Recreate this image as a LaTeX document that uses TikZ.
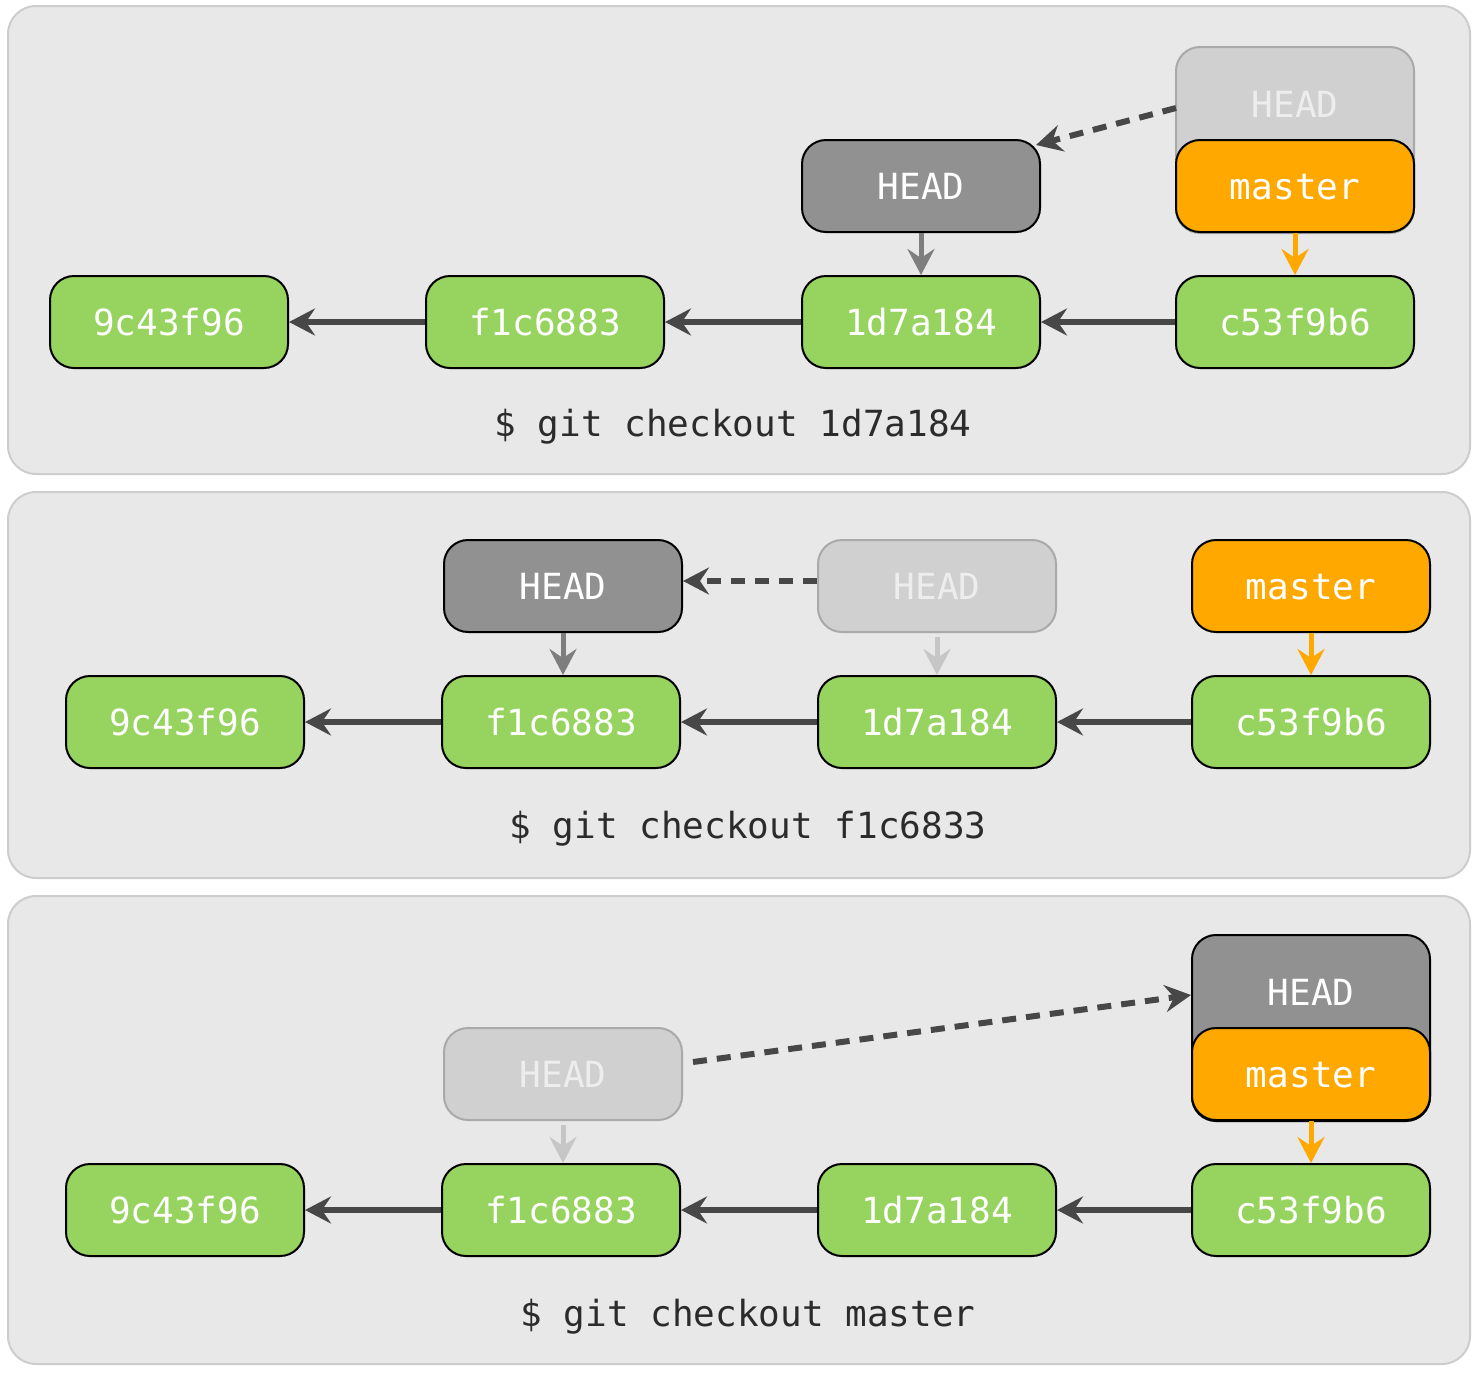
\documentclass[tikz,border=0pt]{standalone}
\usepackage{fontspec}
\newfontfamily\gitfont{DejaVu Sans Mono}
\usetikzlibrary{arrows.meta}
\definecolor{panelfill}{HTML}{E8E8E8}
\definecolor{panelline}{HTML}{CDCDCD}
\definecolor{commitgreen}{HTML}{96D35F}
\definecolor{headgray}{HTML}{919191}
\definecolor{fadefill}{HTML}{D0D0D0}
\definecolor{fadeline}{HTML}{A9A9A9}
\definecolor{fadetext}{HTML}{EDEDED}
\definecolor{branchorange}{HTML}{FFA800}
\definecolor{arrowdark}{HTML}{474747}
\definecolor{headarrow}{HTML}{7E7E7E}
\definecolor{fadearrow}{HTML}{C6C6C6}
\definecolor{cmdtext}{HTML}{2B2B2B}
\begin{document}
\begin{tikzpicture}[x=1pt,y=-1pt,
  box/.style={rounded corners=24pt, line width=2pt, minimum width=238pt, minimum height=92pt, inner sep=0pt,
    font=\gitfont\fontsize{36}{40}\selectfont, text=white, text height=27pt, text depth=0pt},
  commit/.style={box, draw=black, fill=commitgreen},
  headref/.style={box, draw=black, fill=headgray},
  oldhead/.style={box, draw=fadeline, fill=fadefill, text=fadetext},
  branch/.style={box, draw=black, fill=branchorange},
  panel/.style={draw=panelline, fill=panelfill, line width=2pt, rounded corners=28pt},
  cmd/.style={font=\gitfont\fontsize{36}{40}\selectfont, text=cmdtext, inner sep=0pt, text height=27pt, text depth=0pt},
  tip/.style={-{Stealth[length=26pt,width=27pt,inset=9pt]}},
  parent/.style={draw=arrowdark, line width=6pt, tip},
  headptr/.style={draw=headarrow, line width=5pt, tip},
  oldptr/.style={draw=fadearrow, line width=5pt, tip},
  branchptr/.style={draw=branchorange, line width=5pt, tip},
  moved/.style={draw=arrowdark, line width=6pt, dash pattern=on 14pt off 10pt, tip}
]
\useasboundingbox (0,0) rectangle (1480,1374);
\fill[white] (0,0) rectangle (1480,1374);

% panels
\draw[panel] (8,6) rectangle (1470,474);
\draw[panel] (8,492) rectangle (1470,878);
\draw[panel] (8,896) rectangle (1470,1364);

% ---------- panel 1 ----------
\node[commit] (c1a) at (169,322) {9c43f96};
\node[commit] (c1b) at (545,322) {f1c6883};
\node[commit] (c1c) at (921,322) {1d7a184};
\node[commit] (c1d) at (1295,322) {c53f9b6};
\node[oldhead, anchor=north, text height=70pt, text depth=116pt] (h1old) at (1295,46) {HEAD};
\node[branch] (m1) at (1295,186) {master};
\node[headref] (h1) at (921,186) {HEAD};
\node[cmd] (cmd1) at (733,423) {\$ git checkout 1d7a184};
\draw[parent] (c1b.west) -- (c1a.east);
\draw[parent] (c1c.west) -- (c1b.east);
\draw[parent] (c1d.west) -- (c1c.east);
\draw[headptr] (h1.south) -- (h1.south |- c1c.north);
\draw[branchptr] (m1.south) -- (m1.south |- c1d.north);
\coordinate (d1s) at (1176,108);
\coordinate (d1e) at (1036,145);
\draw[moved] (d1s) -- (d1e);

% ---------- panel 2 ----------
\node[commit] (c2a) at (185,722) {9c43f96};
\node[commit] (c2b) at (561,722) {f1c6883};
\node[commit] (c2c) at (937,722) {1d7a184};
\node[commit] (c2d) at (1311,722) {c53f9b6};
\node[headref] (h2) at (563,586) {HEAD};
\node[oldhead] (h2old) at (937,586) {HEAD};
\node[branch] (m2) at (1311,586) {master};
\node[cmd] (cmd2) at (748,825) {\$ git checkout f1c6833};
\draw[parent] (c2b.west) -- (c2a.east);
\draw[parent] (c2c.west) -- (c2b.east);
\draw[parent] (c2d.west) -- (c2c.east);
\draw[headptr] (h2.south) -- (h2.south |- c2b.north);
\draw[oldptr, shorten <=4pt] (h2old.south) -- (h2old.south |- c2c.north);
\draw[branchptr] (m2.south) -- (m2.south |- c2d.north);
\draw[moved] ([yshift=5pt]h2old.west) -- ([yshift=5pt]h2.east);

% ---------- panel 3 ----------
\node[commit] (c3a) at (185,1210) {9c43f96};
\node[commit] (c3b) at (561,1210) {f1c6883};
\node[commit] (c3c) at (937,1210) {1d7a184};
\node[commit] (c3d) at (1311,1210) {c53f9b6};
\node[oldhead] (h3old) at (563,1074) {HEAD};
\node[headref, anchor=north, text height=70pt, text depth=116pt] (h3) at (1311,934) {HEAD};
\node[branch] (m3) at (1311,1074) {master};
\node[cmd] (cmd3) at (748,1313) {\$ git checkout master};
\draw[parent] (c3b.west) -- (c3a.east);
\draw[parent] (c3c.west) -- (c3b.east);
\draw[parent] (c3d.west) -- (c3c.east);
\draw[oldptr, shorten <=4pt] (h3old.south) -- (h3old.south |- c3b.north);
\draw[branchptr] (m3.south) -- (m3.south |- c3d.north);
\draw[moved] ([xshift=10pt,yshift=12pt]h3old.east) -- ([yshift=33pt]h3.west);
\end{tikzpicture}
\end{document}
